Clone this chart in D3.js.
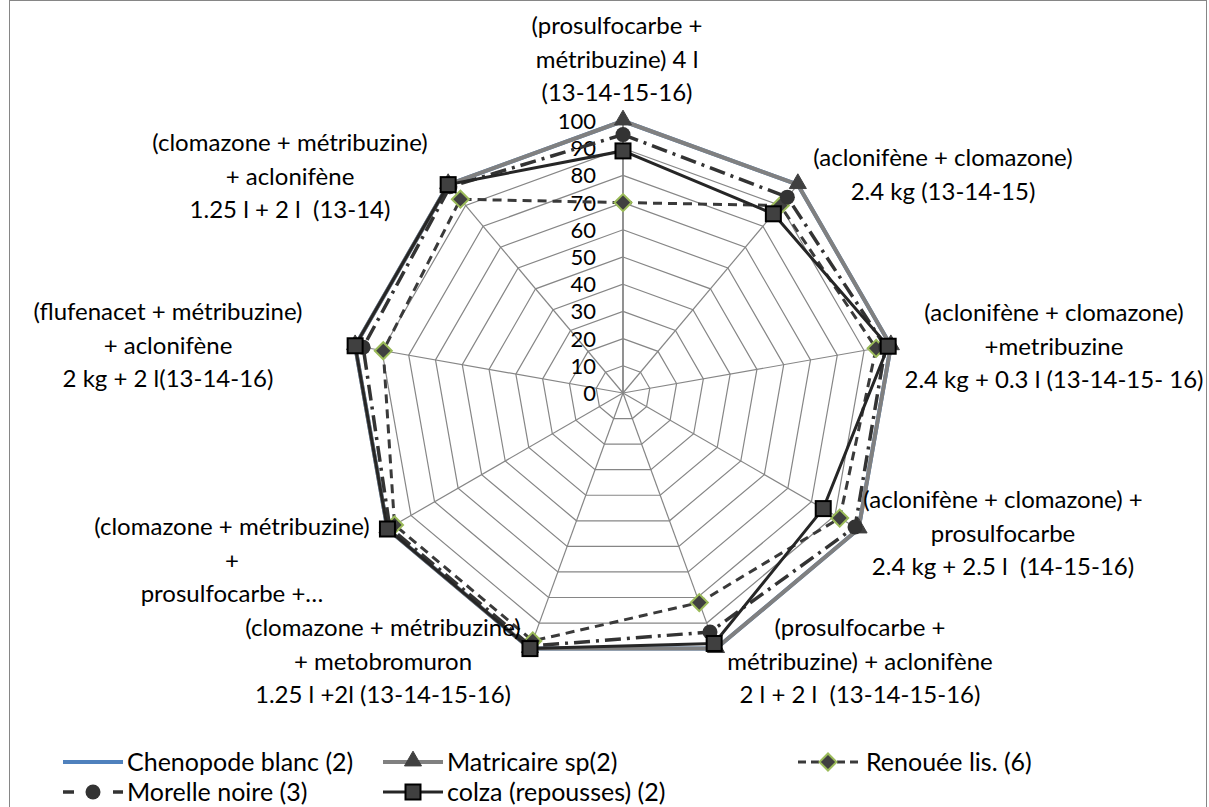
<!DOCTYPE html>
<html>
<head>
<meta charset="utf-8">
<script src="https://cdn.jsdelivr.net/npm/d3@7"></script>
<style>
  body { margin: 0; background: #fff; }
  svg text { font-family: Lato, "Open Sans", sans-serif; fill: #000; white-space: pre; }
</style>
</head>
<body>
<div id="chart"></div>
<script>
// categories, one array of lines per axis (clockwise from top)
const categories = [
  ['(prosulfocarbe +', 'métribuzine) 4 l', '(13-14-15-16)'],
  ['(aclonifène + clomazone)', '2.4 kg (13-14-15)'],
  ['(aclonifène + clomazone)', '+metribuzine', '2.4 kg + 0.3 l (13-14-15- 16)'],
  ['(aclonifène + clomazone) +', 'prosulfocarbe', '2.4 kg + 2.5 l  (14-15-16)'],
  ['(prosulfocarbe +', 'métribuzine) + aclonifène', '2 l + 2 l  (13-14-15-16)'],
  ['(clomazone + métribuzine)', '+ metobromuron', '1.25 l +2l (13-14-15-16)'],
  ['(clomazone + métribuzine)', '+', 'prosulfocarbe +…'],
  ['(flufenacet + métribuzine)', '+ aclonifène', '2 kg + 2 l(13-14-16)'],
  ['(clomazone + métribuzine)', '+ aclonifène', '1.25 l + 2 l  (13-14)']
];

const chenopode = [100, 100, 100, 100, 100, 100, 100, 100, 100];
const matricaire = [100, 100, 100, 100, 100, 100, 100, 100, 100];
const renouee = [70, 90, 94.5, 92, 82, 97, 97, 89.5, 93];
const morelle = [95, 94, 98, 98.5, 93.5, 99, 99, 97, 99];
const colza = [89, 86, 99, 85, 98, 100, 100, 100, 100];

const seriesNames = ['Chenopode blanc (2)', 'Matricaire sp(2)', 'Renouée lis. (6)', 'Morelle noire (3)', 'colza (repousses) (2)'];
const ticks = [0, 10, 20, 30, 40, 50, 60, 70, 80, 90, 100];

// layout
const W = 1209, H = 807;
const cx = 623, cy = 393, R = 272;
// centre of first line of each category label
const labelPos = [[617, 26], [943, 158], [1054, 313], [1003, 500], [860, 628], [383, 628], [232, 527], [168, 312], [290, 143]];
const LINE_H = 33.5;

const styles = [
  { color: '#4f81bd', width: 4, dash: null, marker: null },
  { color: '#808080', width: 4, dash: null, marker: 'triangle' },
  { color: '#3a3a3a', width: 3, dash: '9,6', marker: 'diamond' },
  { color: '#333333', width: 3.5, dash: '16,6,3,6', marker: 'circle' },
  { color: '#262626', width: 3, dash: null, marker: 'square' }
];
const allSeries = [chenopode, matricaire, renouee, morelle, colza];

const svg = d3.select('#chart').append('svg').attr('width', W).attr('height', H);
svg.append('rect').attr('x', 9.5).attr('y', 0.5).attr('width', 1197).attr('height', 810)
  .attr('fill', '#fff').attr('stroke', '#868686').attr('stroke-width', 1);

const g = svg.append('g').attr('transform', `translate(${cx},${cy})`);

const r = d3.scaleLinear().domain([0, 100]).range([0, R]);
const angle = d3.scaleLinear().domain([0, categories.length]).range([0, 2 * Math.PI]);

const pt = (i, v) => [r(v) * Math.sin(angle(i)), -r(v) * Math.cos(angle(i))];

// grid rings
ticks.slice(1).forEach((t) => {
  g.append('path')
    .attr('d', d3.line()(categories.map((c, i) => pt(i, t))) + 'Z')
    .attr('fill', 'none').attr('stroke', '#868686').attr('stroke-width', 1.2);
});
// spokes
categories.forEach((c, i) => {
  const [x, y] = pt(i, 100);
  g.append('line').attr('x1', 0).attr('y1', 0).attr('x2', x).attr('y2', y)
    .attr('stroke', '#868686').attr('stroke-width', i === 0 ? 1.8 : 1.2);
});

// tick labels
ticks.forEach((t) => {
  g.append('text').attr('x', -27).attr('y', -r(t)).attr('dy', '0.36em')
    .attr('text-anchor', 'end').attr('font-size', '22px').text(t);
});

// category labels
categories.forEach((lines, i) => {
  const t = svg.append('text').attr('text-anchor', 'middle').attr('font-size', '24px');
  lines.forEach((ln, j) => {
    t.append('tspan').attr('x', labelPos[i][0]).attr('y', labelPos[i][1] + j * LINE_H).attr('dy', '0.35em').text(ln);
  });
});

function drawMarker(sel, type, x, y, size) {
  if (type === 'triangle') {
    sel.append('path').attr('d', d3.symbol(d3.symbolTriangle, size * 9)())
      .attr('transform', `translate(${x},${y - 1})`).attr('fill', '#404040').attr('stroke', '#404040').attr('stroke-width', 1);
  } else if (type === 'diamond') {
    sel.append('rect').attr('x', -6).attr('y', -6).attr('width', 12).attr('height', 12)
      .attr('transform', `translate(${x},${y}) rotate(45)`).attr('fill', '#404040').attr('stroke', '#9bbb59').attr('stroke-width', 2);
  } else if (type === 'circle') {
    sel.append('circle').attr('cx', x).attr('cy', y).attr('r', 7.5).attr('fill', '#333');
  } else if (type === 'square') {
    sel.append('rect').attr('x', x - 7.5).attr('y', y - 7.5).attr('width', 15).attr('height', 15)
      .attr('fill', '#404040').attr('stroke', '#000').attr('stroke-width', 2);
  }
}

const radial = d3.lineRadial()
  .angle((d, i) => angle(i))
  .radius((d) => r(d))
  .curve(d3.curveLinearClosed);

allSeries.forEach((vals, s) => {
  const st = styles[s];
  g.append('path').datum(vals).attr('d', radial)
    .attr('fill', 'none').attr('stroke', st.color).attr('stroke-width', st.width)
    .attr('stroke-linejoin', 'miter')
    .attr('stroke-dasharray', st.dash);
  if (st.marker) {
    vals.forEach((v, i) => {
      const [x, y] = pt(i, v);
      drawMarker(g, st.marker, x, y, 14);
    });
  }
});

// legend
const legendItems = [
  { s: 0, x: 63, y: 762 }, { s: 1, x: 383, y: 762 }, { s: 2, x: 798, y: 762 },
  { s: 3, x: 63, y: 792 }, { s: 4, x: 383, y: 792 }
];
legendItems.forEach((it) => {
  const st = styles[it.s];
  const lg = svg.append('g');
  const len = 60;
  lg.append('line').attr('x1', it.x).attr('x2', it.x + len).attr('y1', it.y).attr('y2', it.y)
    .attr('stroke', st.color).attr('stroke-width', st.width)
    .attr('stroke-dasharray', st.dash ? (it.s === 3 ? '11,14' : '8,5') : null);
  if (st.marker) drawMarker(lg, st.marker, it.x + len / 2, it.y, 14);
  lg.append('text').attr('x', it.x + len + (it.s === 2 ? 8 : 4)).attr('y', it.y).attr('dy', '0.35em')
    .attr('font-size', '25px').text(seriesNames[it.s]);
});
</script>
</body>
</html>
